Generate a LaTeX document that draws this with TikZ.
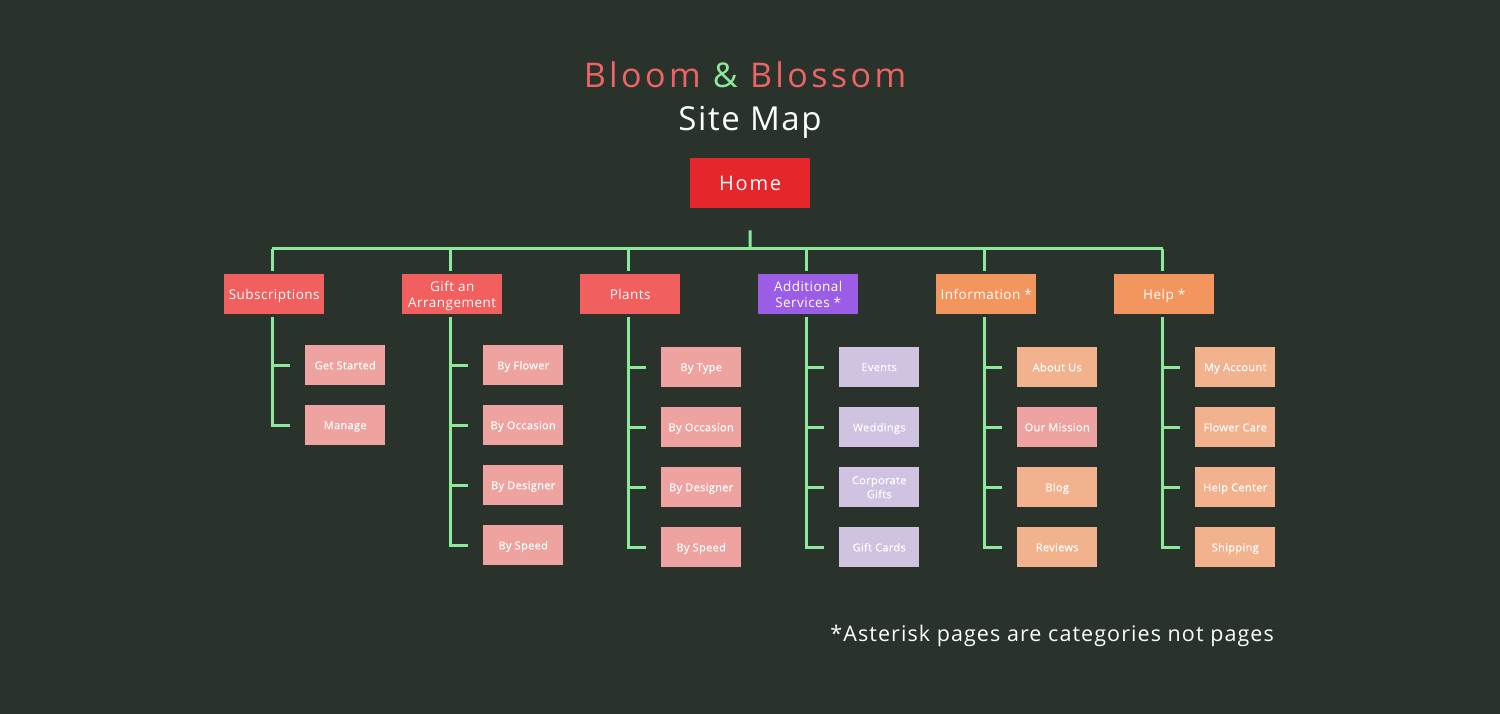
\documentclass[tikz,border=0pt]{standalone}
\usepackage{fontspec}
\setmainfont{Open Sans}
\newfontfamily\titlefont[LetterSpace=10]{Open Sans}
\newfontfamily\sitefont[LetterSpace=5]{Open Sans}
\newfontfamily\homefont[LetterSpace=9]{Open Sans}
\newfontfamily\topfont[LetterSpace=3.5]{Open Sans}
\newfontfamily\kidfont[LetterSpace=3,FakeBold=0.3]{Open Sans}
\newfontfamily\notefont[LetterSpace=5]{Open Sans}
\definecolor{bg}{HTML}{29332C}
\definecolor{salmon}{HTML}{EE6464}
\definecolor{leaf}{HTML}{8CE99A}
\definecolor{homered}{HTML}{E5262A}
\definecolor{lvred}{HTML}{F25F5F}
\definecolor{lvpink}{HTML}{EFA3A0}
\definecolor{lvpurple}{HTML}{9B5DE5}
\definecolor{lvlav}{HTML}{D0C2E1}
\definecolor{lvorange}{HTML}{F2955F}
\definecolor{lvpeach}{HTML}{F2B28E}
\tikzset{
  conn/.style={draw=leaf, line width=3pt},
  topbox/.style={minimum width=100pt, minimum height=40pt, inner sep=0pt, anchor=north west, text=white, align=center,
    text depth=0pt, font=\topfont\fontsize{13.5}{16}\selectfont},
  subbox/.style={minimum width=80pt, minimum height=40pt, inner sep=0pt, anchor=north west, text=white, align=center,
    text depth=0pt, font=\kidfont\fontsize{11}{14}\selectfont},
}
\begin{document}
\begin{tikzpicture}[x=1pt,y=-1pt]
\fill[bg] (0,0) rectangle (1500,714);
\useasboundingbox (0,0) rectangle (1500,714);

% titles
\node[anchor=base, inner sep=0pt, font=\titlefont\fontsize{34}{40}\selectfont] (title) at (745,88)
  {\textcolor{salmon}{Bloom} \textcolor{leaf}{\&} \textcolor{salmon}{Blossom}};
\node[anchor=base, inner sep=0pt, text=white, font=\sitefont\fontsize{33}{40}\selectfont] (sub) at (750,131) {Site Map};
\node[fill=homered, minimum width=120pt, minimum height=50pt, inner sep=0pt, anchor=north west, text=white,
  font=\homefont\fontsize{20}{24}\selectfont] (home) at (690,158) {Home};

% level 1
\node[topbox, fill=lvred] (subs) at (224,274) {Subscriptions};
\node[topbox, fill=lvred] (gift) at (402,274) {Gift an\\Arrangement};
\node[topbox, fill=lvred] (plants) at (580,274) {Plants};
\node[topbox, fill=lvpurple] (addl) at (758,274) {Additional\\Services *};
\node[topbox, fill=lvorange] (info) at (936,274) {Information *};
\node[topbox, fill=lvorange] (help) at (1114,274) {Help *};

% children
\node[subbox, fill=lvpink] (s1) at (305,345) {Get Started};
\node[subbox, fill=lvpink] (s2) at (305,405) {Manage};

\node[subbox, fill=lvpink] (g1) at (483,345) {By Flower};
\node[subbox, fill=lvpink] (g2) at (483,405) {By Occasion};
\node[subbox, fill=lvpink] (g3) at (483,465) {By Designer};
\node[subbox, fill=lvpink] (g4) at (483,525) {By Speed};

\node[subbox, fill=lvpink] (p1) at (661,347) {By Type};
\node[subbox, fill=lvpink] (p2) at (661,407) {By Occasion};
\node[subbox, fill=lvpink] (p3) at (661,467) {By Designer};
\node[subbox, fill=lvpink] (p4) at (661,527) {By Speed};

\node[subbox, fill=lvlav] (a1) at (839,347) {Events};
\node[subbox, fill=lvlav] (a2) at (839,407) {Weddings};
\node[subbox, fill=lvlav] (a3) at (839,467) {Corporate\\Gifts};
\node[subbox, fill=lvlav] (a4) at (839,527) {Gift Cards};

\node[subbox, fill=lvpeach] (i1) at (1017,347) {About Us};
\node[subbox, fill=lvpink] (i2) at (1017,407) {Our Mission};
\node[subbox, fill=lvpeach] (i3) at (1017,467) {Blog};
\node[subbox, fill=lvpeach] (i4) at (1017,527) {Reviews};

\node[subbox, fill=lvpeach] (h1) at (1195,347) {My Account};
\node[subbox, fill=lvpeach] (h2) at (1195,407) {Flower Care};
\node[subbox, fill=lvpeach] (h3) at (1195,467) {Help Center};
\node[subbox, fill=lvpeach] (h4) at (1195,527) {Shipping};

% bus coordinates
\coordinate (hb) at ([xshift=0pt, yshift=-22pt]home.south);
\coordinate (busl) at (272,249);
\coordinate (busr) at (1163,249);

\draw[conn] (hb) -- (750,249);
\draw[conn] (busl) -- (busr);
\foreach \n in {subs,gift,plants,addl,info,help}{
  \draw[conn] ([xshift=-2pt]\n.north |- busl) -- ([xshift=-2pt, yshift=3pt]\n.north);
}

% spines
\foreach \p/\kids in {subs/{s1,s2}, gift/{g1,g2,g3,g4}, plants/{p1,p2,p3,p4}, addl/{a1,a2,a3,a4}, info/{i1,i2,i3,i4}, help/{h1,h2,h3,h4}}{
  \foreach \k in \kids {
    \draw[conn] ([xshift=-2pt, yshift=-3pt]\p.south) |- ([xshift=-15pt]\k.west);
  }
}

\node[anchor=base east, inner sep=0pt, text=white, font=\notefont\fontsize{21.5}{26}\selectfont] (note) at (1274,641)
  {*Asterisk pages are categories not pages};
\end{tikzpicture}
\end{document}
